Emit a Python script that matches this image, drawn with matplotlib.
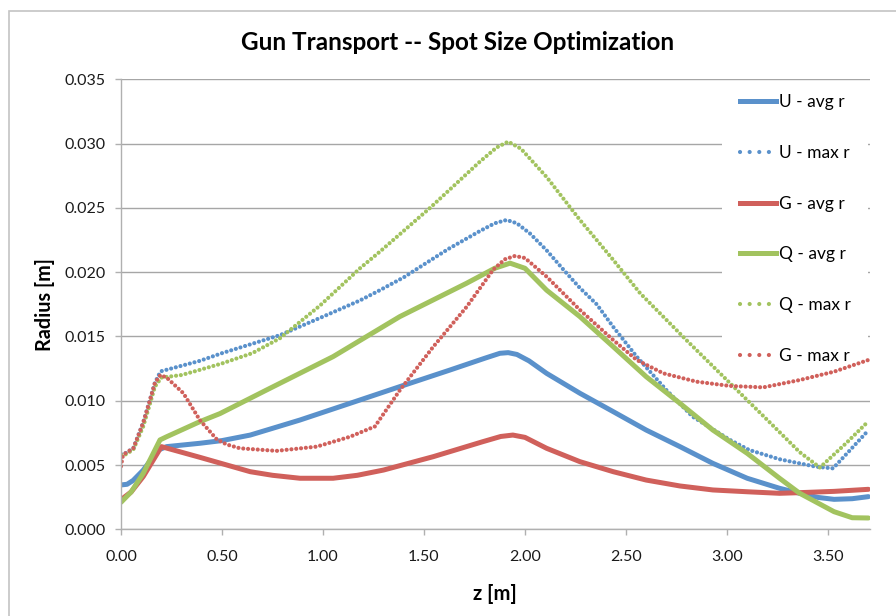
import matplotlib
matplotlib.use("Agg")
import matplotlib.pyplot as plt
from matplotlib.lines import Line2D
from matplotlib.patches import Rectangle

# values
u_avg_z = [0, 0.03, 0.06, 0.11, 0.185, 0.226, 0.39, 0.5, 0.64, 0.76, 0.886, 1.134, 1.381, 1.629, 1.8, 1.876,
           1.917, 1.96, 2.02, 2.107, 2.272, 2.437, 2.6, 2.767, 2.93, 3.1, 3.26, 3.36, 3.45, 3.53, 3.62, 3.7]
u_avg_r = [0.00345, 0.0035, 0.0038, 0.0046, 0.00617, 0.00643, 0.00669, 0.0069, 0.00733, 0.0079, 0.0085, 0.0098,
           0.0111, 0.01239, 0.0133, 0.01369, 0.01374, 0.0136, 0.0131, 0.01213, 0.01058, 0.00915, 0.00772,
           0.00643, 0.00513, 0.00397, 0.00319, 0.0028, 0.00248, 0.00233, 0.00238, 0.00254]

u_max_z = [0, 0.02, 0.061, 0.11, 0.144, 0.168, 0.193, 0.2, 0.39, 0.5, 0.787, 1.0, 1.183, 1.282, 1.4, 1.62,
           1.777, 1.85, 1.909, 1.96, 2.025, 2.107, 2.19, 2.27, 2.355, 2.436, 2.553, 2.70, 2.83, 3.015, 3.11,
           3.26, 3.44, 3.525, 3.6, 3.7]
u_max_r = [0.00586, 0.0059, 0.0063, 0.0083, 0.0101, 0.0114, 0.0122, 0.0123, 0.0131, 0.0137, 0.0151, 0.01654,
           0.0178, 0.0186, 0.0196, 0.0218, 0.0232, 0.0238, 0.02406, 0.0238, 0.0230, 0.0217, 0.0202, 0.0188,
           0.0175, 0.01576, 0.01343, 0.01083, 0.00876, 0.00695, 0.00617, 0.00545, 0.00487, 0.00474, 0.0060,
           0.0077]

g_avg_z = [0, 0.05, 0.11, 0.2, 0.39, 0.64, 0.75, 0.886, 1.05, 1.17, 1.3, 1.546, 1.79, 1.88, 1.94, 2.0, 2.107,
           2.272, 2.437, 2.6, 2.767, 2.93, 3.1, 3.26, 3.36, 3.53, 3.7]
g_avg_r = [0.0023, 0.0029, 0.0041, 0.00643, 0.0056, 0.00448, 0.0042, 0.00397, 0.00397, 0.0042, 0.00461,
           0.00565, 0.00681, 0.00722, 0.00733, 0.00715, 0.0063, 0.00526, 0.00448, 0.00383, 0.00337, 0.00306,
           0.00292, 0.0028, 0.00285, 0.00295, 0.00311]

q_avg_z = [0, 0.05, 0.11, 0.193, 0.226, 0.39, 0.49, 0.72, 1.05, 1.38, 1.71, 1.85, 1.926, 2.0, 2.107, 2.272,
           2.437, 2.6, 2.767, 2.93, 3.1, 3.26, 3.36, 3.53, 3.62, 3.7]
q_avg_r = [0.0021, 0.0029, 0.00435, 0.00695, 0.0072, 0.00837, 0.0090, 0.01083, 0.01343, 0.01654, 0.01913,
           0.0203, 0.0207, 0.0203, 0.0186, 0.01654, 0.0142, 0.01187, 0.0098, 0.00772, 0.00591, 0.00397,
           0.0028, 0.00137, 0.0009, 0.00088]

q_max_z = [0, 0.02, 0.061, 0.11, 0.144, 0.168, 0.2, 0.3, 0.39, 0.5, 0.65, 0.787, 0.985, 1.183, 1.282, 1.53,
           1.777, 1.86, 1.917, 1.98, 2.107, 2.27, 2.437, 2.57, 2.8, 3.0, 3.2, 3.36, 3.46, 3.59, 3.7]
q_max_r = [0.0058, 0.0058, 0.0062, 0.0080, 0.0098, 0.0111, 0.0118, 0.0120, 0.0124, 0.0129, 0.0137, 0.01486,
           0.0174, 0.0203, 0.0216, 0.0250, 0.0286, 0.0297, 0.03015, 0.0296, 0.0274, 0.0241, 0.02095, 0.01836,
           0.0147, 0.0116, 0.0085, 0.0060, 0.0048, 0.0067, 0.0084]

g_max_z = [0, 0.01, 0.061, 0.11, 0.144, 0.168, 0.195, 0.226, 0.309, 0.39, 0.474, 0.523, 0.589, 0.77, 0.969,
           1.134, 1.257, 1.381, 1.546, 1.711, 1.843, 1.9, 1.95, 2.0, 2.107, 2.272, 2.437, 2.553, 2.685, 2.85,
           3.015, 3.18, 3.36, 3.53, 3.7]
g_max_r = [0.0049, 0.0058, 0.0063, 0.0083, 0.0101, 0.0114, 0.0120, 0.0118, 0.01058, 0.0085, 0.0070, 0.0066,
           0.0063, 0.0061, 0.00643, 0.0072, 0.0080, 0.01083, 0.0142, 0.0173, 0.0202, 0.0210, 0.02126, 0.0211,
           0.01965, 0.01706, 0.01472, 0.01317, 0.01213, 0.01148, 0.01115, 0.01104, 0.01161, 0.01226, 0.01317]

labels = ["U - avg r", "U - max r", "G - avg r", "Q - avg r", "Q - max r", "G - max r"]

blue = "#5A91CB"
red = "#D0605B"
green = "#A2C35F"

plt.rcParams['font.family'] = ['Lato', 'DejaVu Sans']

fig = plt.figure(figsize=(8.96, 6.16), dpi=100)
ax = fig.add_axes([121 / 896, 86.7 / 616, 749 / 896, 450 / 616])

solid = dict(lw=3.6, solid_capstyle="round", solid_joinstyle="round")
dotted = dict(lw=3.0, dashes=(0.01, 1.15), dash_capstyle="round")

ax.plot(u_avg_z, u_avg_r, color=blue, **solid)
ax.plot(u_max_z, u_max_r, color=blue, **dotted)
ax.plot(g_avg_z, g_avg_r, color=red, **solid)
ax.plot(q_avg_z, q_avg_r, color=green, **solid)
ax.plot(q_max_z, q_max_r, color=green, **dotted)
ax.plot(g_max_z, g_max_r, color=red, **dotted)

ax.set_xlim(0, 3.708)
ax.set_ylim(0, 0.035)
ax.set_xticks([0, 0.5, 1.0, 1.5, 2.0, 2.5, 3.0, 3.5])
ax.set_xticklabels(["0.00", "0.50", "1.00", "1.50", "2.00", "2.50", "3.00", "3.50"])
ax.set_yticks([0, 0.005, 0.01, 0.015, 0.02, 0.025, 0.03, 0.035])
ax.set_yticklabels(["0.000", "0.005", "0.010", "0.015", "0.020", "0.025", "0.030", "0.035"])
ax.grid(axis="y", color="#a6a6a6", lw=1.0)
ax.set_axisbelow(True)
for s in ["top", "right"]:
    ax.spines[s].set_visible(False)
for s in ["left", "bottom"]:
    ax.spines[s].set_color("#b0b0b0")
    ax.spines[s].set_linewidth(1.0)
ax.tick_params(colors="#b0b0b0", labelcolor="#1a1a1a", labelsize=11.5, length=4, width=1.0, pad=11)
ax.tick_params(axis="y", pad=7)

# white legend area hides the gridlines but not the curves
ax.add_patch(Rectangle((0.8024, 0.35), 0.195, 0.644, transform=ax.transAxes, facecolor="white",
                       edgecolor="none", zorder=1))

# legend proxies: Excel draws the legend dots wider apart than on the curves
handles = [
    Line2D([], [], color=blue, lw=3.6),
    Line2D([], [], color=blue, lw=3.0, dashes=(0.01, 2.3), dash_capstyle="round"),
    Line2D([], [], color=red, lw=3.6),
    Line2D([], [], color=green, lw=3.6),
    Line2D([], [], color=green, lw=3.0, dashes=(0.01, 2.3), dash_capstyle="round"),
    Line2D([], [], color=red, lw=3.0, dashes=(0.01, 2.3), dash_capstyle="round"),
]
leg = fig.legend(handles, labels, loc="upper left", bbox_to_anchor=(722 / 896, 1 - 76 / 616),
                 frameon=False, fontsize=12.5, labelspacing=2.0, handlelength=2.05, handletextpad=0.17,
                 borderpad=1.05, borderaxespad=0)

fig.text(458 / 896, 1 - 42 / 616, "Gun Transport -- Spot Size Optimization", ha="center", va="center",
         fontsize=17.5, fontweight="bold")
fig.text(495 / 896, 1 - 594 / 616, "z [m]", ha="center", va="center", fontsize=14.5, fontweight="bold")
fig.text(45 / 896, 1 - 305 / 616, "Radius [m]", ha="center", va="center", rotation=90, fontsize=14.3,
         fontweight="bold")

fig.patches.append(Rectangle((9 / 896, -0.1), 1.2, 1.1 - 11 / 616, transform=fig.transFigure,
                             fill=False, edgecolor="#c4c4c4", lw=1.2))

fig.savefig("out.png", dpi=100)
